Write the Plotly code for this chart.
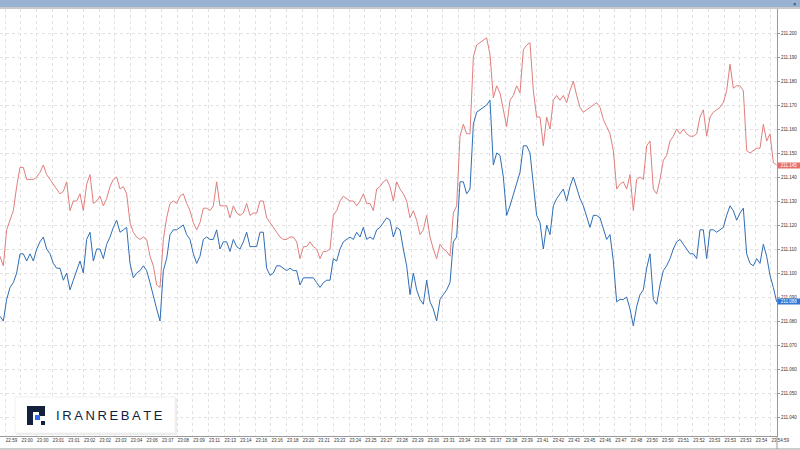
import plotly.graph_objects as go

# ask (red) and bid (blue) prices, one value per sampled tick, left to right
ask = [211.107, 211.103, 211.118, 211.122, 211.126, 211.136, 211.144, 211.144, 211.139, 211.139,
       211.139, 211.140, 211.142, 211.145, 211.141, 211.139, 211.137, 211.135, 211.133, 211.134,
       211.138, 211.126, 211.130, 211.130, 211.133, 211.126, 211.137, 211.141, 211.129, 211.130,
       211.132, 211.128, 211.131, 211.136, 211.139, 211.140, 211.135, 211.136, 211.133, 211.121,
       211.117, 211.115, 211.114, 211.115, 211.114, 211.107, 211.103, 211.095,
       211.094, 211.114, 211.123, 211.129, 211.130, 211.129, 211.132, 211.133, 211.129, 211.126,
       211.121, 211.118, 211.121, 211.127, 211.127, 211.126, 211.128, 211.138, 211.128, 211.128,
       211.128, 211.123, 211.128, 211.125, 211.124, 211.125, 211.129, 211.124, 211.125, 211.125,
       211.130, 211.130, 211.123, 211.121, 211.119, 211.117, 211.115, 211.114, 211.114, 211.115,
       211.115, 211.113, 211.106, 211.111, 211.111, 211.113,
       211.111, 211.110, 211.106, 211.109, 211.109, 211.110, 211.124, 211.126, 211.130, 211.132,
       211.131, 211.130, 211.130, 211.128, 211.130, 211.133, 211.129, 211.129, 211.126, 211.135,
       211.136, 211.138, 211.139, 211.136, 211.130, 211.138, 211.135, 211.133, 211.130, 211.123,
       211.126, 211.122, 211.116, 211.118, 211.124, 211.115, 211.110, 211.106, 211.112, 211.110,
       211.109, 211.107, 211.125, 211.128, 211.157, 211.162, 211.158,
       211.158, 211.190, 211.195, 211.196, 211.197, 211.198, 211.191, 211.173, 211.178, 211.175,
       211.168, 211.161, 211.172, 211.174, 211.178, 211.175, 211.193, 211.195, 211.196, 211.176,
       211.165, 211.165, 211.153, 211.165, 211.160, 211.172, 211.174, 211.172, 211.174, 211.171,
       211.176, 211.180, 211.174, 211.169, 211.167, 211.168, 211.169, 211.170, 211.171, 211.169,
       211.164, 211.161, 211.158, 211.151, 211.135, 211.137, 211.138,
       211.135, 211.141, 211.126, 211.139, 211.140, 211.139, 211.153, 211.155, 211.135, 211.133,
       211.139, 211.147, 211.149, 211.155, 211.157, 211.160, 211.158, 211.160, 211.158, 211.157,
       211.157, 211.158, 211.165, 211.168, 211.157, 211.165, 211.167, 211.168, 211.169, 211.171,
       211.176, 211.187, 211.177, 211.178, 211.178, 211.176, 211.151, 211.150, 211.151, 211.152,
       211.152, 211.162, 211.155, 211.158, 211.146, 211.145]

bid = [211.082, 211.080, 211.089, 211.094, 211.096, 211.100, 211.108, 211.108, 211.105, 211.108,
       211.105, 211.110, 211.113, 211.115, 211.110, 211.108, 211.104, 211.102, 211.102, 211.097,
       211.100, 211.093, 211.097, 211.101, 211.105, 211.100, 211.114, 211.117, 211.105, 211.110,
       211.110, 211.106, 211.112, 211.115, 211.119, 211.122, 211.117, 211.118, 211.119, 211.104,
       211.098, 211.100, 211.101, 211.103, 211.101, 211.096, 211.090, 211.085,
       211.080, 211.101, 211.106, 211.116, 211.118, 211.118, 211.119, 211.120, 211.116, 211.114,
       211.108, 211.104, 211.107, 211.114, 211.115, 211.114, 211.114, 211.118, 211.110, 211.113,
       211.113, 211.109, 211.114, 211.111, 211.110, 211.113, 211.117, 211.111, 211.111, 211.111,
       211.117, 211.117, 211.102, 211.099, 211.100, 211.103, 211.103, 211.102, 211.101, 211.102,
       211.101, 211.101, 211.095, 211.098, 211.098, 211.098,
       211.098, 211.096, 211.094, 211.096, 211.097, 211.097, 211.106, 211.105, 211.110, 211.113,
       211.114, 211.115, 211.114, 211.117, 211.115, 211.119, 211.114, 211.115, 211.114, 211.118,
       211.119, 211.121, 211.123, 211.122, 211.115, 211.119, 211.118, 211.110, 211.103, 211.091,
       211.100, 211.093, 211.089, 211.087, 211.097, 211.088, 211.085, 211.080, 211.089, 211.091,
       211.093, 211.096, 211.113, 211.115, 211.138, 211.138, 211.133,
       211.135, 211.162, 211.167, 211.168, 211.169, 211.170, 211.172, 211.145, 211.150, 211.149,
       211.140, 211.124, 211.128, 211.133, 211.138, 211.142, 211.153, 211.153, 211.150, 211.136,
       211.124, 211.121, 211.110, 211.120, 211.116, 211.128, 211.131, 211.133, 211.135, 211.130,
       211.136, 211.140, 211.135, 211.131, 211.128, 211.123, 211.119, 211.124, 211.124, 211.123,
       211.118, 211.114, 211.116, 211.105, 211.088, 211.089, 211.089,
       211.090, 211.085, 211.078, 211.086, 211.091, 211.093, 211.102, 211.108, 211.089, 211.087,
       211.095, 211.101, 211.103, 211.106, 211.110, 211.113, 211.114, 211.112, 211.110, 211.108,
       211.108, 211.106, 211.118, 211.118, 211.106, 211.118, 211.118, 211.117, 211.118, 211.119,
       211.124, 211.128, 211.126, 211.122, 211.125, 211.127, 211.108, 211.104, 211.103, 211.106,
       211.104, 211.112, 211.107, 211.099, 211.094, 211.088]

time_labels = ['22:59', '23:00', '23:00', '23:01', '23:01', '23:02', '23:02', '23:03', '23:04', '23:06',
               '23:07', '23:08', '23:09', '23:11', '23:13', '23:14', '23:16', '23:16', '23:18', '23:20',
               '23:21', '23:23', '23:24', '23:25', '23:27', '23:28', '23:29', '23:30', '23:31', '23:34',
               '23:35', '23:37', '23:38', '23:39', '23:41', '23:42', '23:43', '23:45', '23:46', '23:47',
               '23:48', '23:50', '23:50', '23:51', '23:52', '23:53', '23:53', '23:53', '23:54', '23:54:59']

price_ticks = [211.04, 211.05, 211.06, 211.07, 211.08, 211.09, 211.10, 211.11,
               211.12, 211.13, 211.14, 211.15, 211.16, 211.17, 211.18, 211.19, 211.20]

W, H = 800, 450
L, R, T, B = 0, 23, 9, 14
pw, ph = W - L - R, H - T - B

def px(x):  # pixel -> paper (x)
    return (x - L) / pw

def py(y):  # pixel -> paper (y)
    return (H - B - y) / ph

idx = list(range(len(ask)))
# a time label every ~4.7 ticks
tick_pos = [1.61 + 4.6875 * i for i in range(len(time_labels))]

fig = go.Figure()
fig.add_trace(go.Scatter(x=idx, y=ask, mode='lines', name='Ask',
                         line=dict(color='#e07e7c', width=1)))
fig.add_trace(go.Scatter(x=idx, y=bid, mode='lines', name='Bid',
                         line=dict(color='#2f6db5', width=1)))

fig.update_layout(
    width=W, height=H,
    margin=dict(l=L, r=R, t=T, b=B),
    paper_bgcolor='white', plot_bgcolor='white',
    showlegend=False,
    font=dict(family='Liberation Sans', size=5, color='#333'),
)

fig.update_xaxes(
    range=[0, 233.1],
    tickvals=tick_pos, ticktext=time_labels,
    ticklabelposition='outside right', tickangle=0,
    showgrid=True, gridcolor='#e2e2e2', griddash='dot', gridwidth=1,
    showline=True, linecolor='#9a9a9a', linewidth=1,
    ticks='', zeroline=False,
    tickfont=dict(size=4.5, color='#333'),
)
fig.update_yaxes(
    side='right',
    range=[211.0321, 211.210],
    tickvals=price_ticks, tickformat='.3f',
    showgrid=True, gridcolor='#e2e2e2', griddash='dot', gridwidth=1,
    showline=True, linecolor='#9a9a9a', linewidth=1,
    ticks='outside', ticklen=2, tickcolor='#9a9a9a',
    zeroline=False,
    tickfont=dict(size=4.5, color='#333'),
)

shapes = [
    # window title strip
    dict(type='rect', xref='paper', yref='paper', x0=px(0), x1=px(W), y0=py(7), y1=py(0),
         fillcolor='#97b2d3', line=dict(width=0), layer='above'),
    dict(type='rect', xref='paper', yref='paper', x0=px(0), x1=px(W), y0=py(9), y1=py(7),
         fillcolor='#c8c8c8', line=dict(width=0), layer='above'),
    # bottom frame
    dict(type='line', xref='paper', yref='paper', x0=px(0), x1=px(W), y0=py(449), y1=py(449),
         line=dict(color='#9a9a9a', width=1)),
    dict(type='line', xref='paper', yref='paper', x0=px(777), x1=px(777), y0=py(449), y1=py(436),
         line=dict(color='#9a9a9a', width=1)),
    # logo card
    dict(type='rect', xref='paper', yref='paper', x0=px(16), x1=px(177), y0=py(435), y1=py(398),
         fillcolor='#ececec', line=dict(width=0), layer='above'),
    dict(type='rect', xref='paper', yref='paper', x0=px(15), x1=px(175), y0=py(433), y1=py(397),
         fillcolor='white', line=dict(color='#f0f0f0', width=1), layer='above'),
    # logo mark
    dict(type='rect', xref='paper', yref='paper', x0=px(27), x1=px(33), y0=py(425), y1=py(406),
         fillcolor='#14213d', line=dict(width=0), layer='above'),
    dict(type='rect', xref='paper', yref='paper', x0=px(27), x1=px(45), y0=py(412), y1=py(406),
         fillcolor='#14213d', line=dict(width=0), layer='above'),
    dict(type='rect', xref='paper', yref='paper', x0=px(39), x1=px(45), y0=py(416), y1=py(406),
         fillcolor='#14213d', line=dict(width=0), layer='above'),
    dict(type='rect', xref='paper', yref='paper', x0=px(35), x1=px(40), y0=py(420), y1=py(415),
         fillcolor='#2b6cf0', line=dict(width=0), layer='above'),
    dict(type='rect', xref='paper', yref='paper', x0=px(41), x1=px(45), y0=py(425), y1=py(421),
         fillcolor='#14213d', line=dict(width=0), layer='above'),
]
fig.update_layout(shapes=shapes)

sp = '\u2009'
annotations = [
    dict(xref='paper', yref='paper', x=px(109), y=py(415.5), xanchor='center', yanchor='middle',
         text=sp.join('IRANREBATE'), showarrow=False,
         font=dict(family='Liberation Sans', size=13, color='#14213d')),
    dict(xref='paper', yref='paper', x=px(795), y=py(4), xanchor='center', yanchor='middle',
         text='×', showarrow=False, font=dict(size=6, color='#222')),
    # current price tags
    dict(xref='paper', yref='y', x=1, xanchor='left', y=ask[-1], text=f'{ask[-1]:.3f}',
         showarrow=False, bgcolor='#e8706b', width=22, height=5, borderpad=0,
         font=dict(size=4.5, color='white')),
    dict(xref='paper', yref='y', x=1, xanchor='left', y=bid[-1], text=f'{bid[-1]:.3f}',
         showarrow=False, bgcolor='#2f78d8', width=22, height=5, borderpad=0,
         font=dict(size=4.5, color='white')),
]
fig.update_layout(annotations=annotations)

# the page body has a default 8px margin; remove it so the figure fills the window
fig.write_html("out.html", config={'displayModeBar': False},
               post_script="document.body.style.margin='0';")
